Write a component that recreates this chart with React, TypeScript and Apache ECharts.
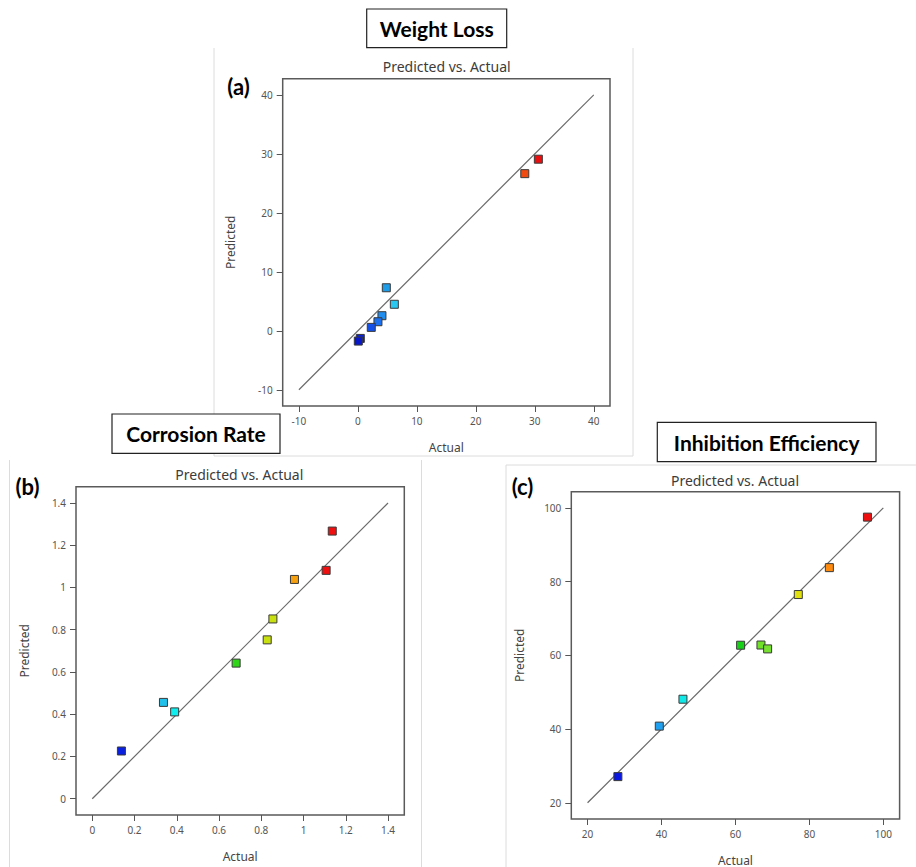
import React, { useEffect, useRef } from "react";
import * as echarts from "echarts";

// ---------- Data ----------
// (a) Weight Loss
const wlActual = [30.6, 28.3, 4.82, 6.18, 4.08, 3.4, 2.27, 0.41, 0.07];
const wlPredicted = [29.1, 26.65, 7.3, 4.5, 2.56, 1.54, 0.58, -1.29, -1.74];
const wlTicks = [-10, 0, 10, 20, 30, 40];

// (b) Corrosion Rate
const crActual = [1.136, 1.107, 0.957, 0.855, 0.828, 0.681, 0.337, 0.39, 0.138];
const crPredicted = [1.267, 1.081, 1.038, 0.851, 0.752, 0.642, 0.456, 0.411, 0.226];
const crTicks = [0, 0.2, 0.4, 0.6, 0.8, 1, 1.2, 1.4];

// (c) Inhibition Efficiency
const ieActual = [95.7, 85.4, 77.0, 61.4, 66.9, 68.7, 45.8, 39.4, 28.2];
const iePredicted = [97.5, 83.8, 76.5, 62.75, 62.8, 61.75, 48.1, 40.8, 27.1];
const ieTicks = [20, 40, 60, 80, 100];

// ---------- Styles ----------
const wlColors = ["#e81010", "#f04c12", "#1e9ce8", "#28c8f0", "#208ef0", "#1a70ee", "#1250e8", "#0a20d0", "#0818c8"];
const crColors = ["#ee1010", "#ee1010", "#f5a010", "#c8e010", "#c8e010", "#30d418", "#20c0ea", "#10eef0", "#0a20e0"];
const ieColors = ["#ee1010", "#ff8c10", "#e0e010", "#18d018", "#70e028", "#78e030", "#10e8e8", "#20a0f0", "#0a18e0"];

const FONT = "'Noto Sans', 'Open Sans', sans-serif";
const BOLD_FONT = "Lato, 'Open Sans', sans-serif";

type Panel = {
  actual: number[];
  predicted: number[];
  ticks: number[];
  colors: string[];
  left: number;
  top: number;
  size: number;
};

const panels: Panel[] = [
  { actual: wlActual, predicted: wlPredicted, ticks: wlTicks, colors: wlColors, left: 282.7, top: 78.7, size: 327.3 },
  { actual: crActual, predicted: crPredicted, ticks: crTicks, colors: crColors, left: 76, top: 486.7, size: 328.3 },
  { actual: ieActual, predicted: iePredicted, ticks: ieTicks, colors: ieColors, left: 571.3, top: 491.7, size: 328.3 },
];

function buildOption() {
  const grid: any[] = [];
  const xAxis: any[] = [];
  const yAxis: any[] = [];
  const series: any[] = [];

  panels.forEach((p, i) => {
    const lo = p.ticks[0];
    const hi = p.ticks[p.ticks.length - 1];
    const pad = (hi - lo) * 0.055;
    grid.push({
      left: p.left,
      top: p.top,
      width: p.size,
      height: p.size,
      show: true,
      borderColor: "#5a5a5a",
      borderWidth: 1.5,
      backgroundColor: "transparent",
      containLabel: false,
    });
    const axisCommon = {
      type: "value",
      gridIndex: i,
      min: lo - pad,
      max: hi + pad,
      splitLine: { show: false },
      axisLine: { show: false, onZero: false },
      axisTick: { show: true, length: 6, customValues: p.ticks, lineStyle: { color: "#555", width: 1 } },
      axisLabel: {
        customValues: p.ticks,
        color: "#555",
        fontSize: 10,
        fontFamily: FONT,
        margin: 10,
      },
      nameLocation: "middle",
      nameTextStyle: { color: "#444", fontSize: 12, fontFamily: FONT },
    };
    xAxis.push({ ...axisCommon, position: "bottom", name: "Actual", nameGap: 35 });
    yAxis.push({ ...axisCommon, position: "left", name: "Predicted", nameGap: 46 });

    series.push({
      type: "line",
      xAxisIndex: i,
      yAxisIndex: i,
      data: [
        [lo, lo],
        [hi, hi],
      ],
      symbol: "none",
      silent: true,
      lineStyle: { color: "#6a6a6a", width: 1.2 },
      z: 2,
    });
    series.push({
      type: "scatter",
      xAxisIndex: i,
      yAxisIndex: i,
      data: p.actual.map((a, k) => [a, p.predicted[k]]),
      symbol: "rect",
      symbolSize: 8,
      itemStyle: {
        color: (params: any) => p.colors[params.dataIndex],
        borderColor: "#3a3a3a",
        borderWidth: 1,
        opacity: 1,
      },
      z: 3,
    });
  });

  const faint = "#dcdcdc";
  const graphic: any[] = [
    // faint panel borders
    { type: "line", shape: { x1: 214, y1: 48, x2: 214, y2: 456 }, style: { stroke: faint, lineWidth: 1 } },
    { type: "line", shape: { x1: 214, y1: 456, x2: 633, y2: 456 }, style: { stroke: faint, lineWidth: 1 } },
    { type: "line", shape: { x1: 633, y1: 48, x2: 633, y2: 456 }, style: { stroke: faint, lineWidth: 1 } },
    { type: "line", shape: { x1: 9.5, y1: 460, x2: 9.5, y2: 867 }, style: { stroke: faint, lineWidth: 1 } },
    { type: "line", shape: { x1: 421.5, y1: 460, x2: 421.5, y2: 867 }, style: { stroke: faint, lineWidth: 1 } },
    { type: "line", shape: { x1: 506, y1: 465, x2: 916, y2: 465 }, style: { stroke: faint, lineWidth: 1 } },
    { type: "line", shape: { x1: 506, y1: 465, x2: 506, y2: 867 }, style: { stroke: faint, lineWidth: 1 } },

    // title boxes
    { type: "rect", shape: { x: 366.7, y: 9, width: 140, height: 38.7 }, style: { fill: "#fff", stroke: "#222", lineWidth: 1.2 } },
    { type: "text", x: 436.7, y: 28.5, style: { text: "Weight Loss", font: `bold 21px ${BOLD_FONT}`, fill: "#000", textAlign: "center", textVerticalAlign: "middle" } },
    { type: "rect", shape: { x: 112, y: 414, width: 168, height: 39.3 }, style: { fill: "#fff", stroke: "#222", lineWidth: 1.2 } },
    { type: "text", x: 196, y: 433.7, style: { text: "Corrosion Rate", font: `bold 21px ${BOLD_FONT}`, fill: "#000", textAlign: "center", textVerticalAlign: "middle" } },
    { type: "rect", shape: { x: 657.3, y: 422.3, width: 218.7, height: 39.4 }, style: { fill: "#fff", stroke: "#222", lineWidth: 1.2 } },
    { type: "text", x: 766.7, y: 442, style: { text: "Inhibition Efficiency", font: `bold 21px ${BOLD_FONT}`, fill: "#000", textAlign: "center", textVerticalAlign: "middle" } },

    // chart titles
    { type: "text", x: 446.7, y: 66.7, style: { text: "Predicted vs. Actual", font: `14px ${FONT}`, fill: "#3c3c3c", textAlign: "center", textVerticalAlign: "middle" } },
    { type: "text", x: 239.3, y: 474.3, style: { text: "Predicted vs. Actual", font: `14px ${FONT}`, fill: "#3c3c3c", textAlign: "center", textVerticalAlign: "middle" } },
    { type: "text", x: 735, y: 480.7, style: { text: "Predicted vs. Actual", font: `14px ${FONT}`, fill: "#3c3c3c", textAlign: "center", textVerticalAlign: "middle" } },

    // panel labels
    { type: "text", x: 238.5, y: 86.7, style: { text: "(a)", font: `bold 22px ${BOLD_FONT}`, fill: "#000", textAlign: "center", textVerticalAlign: "middle" } },
    { type: "text", x: 27.5, y: 486.7, style: { text: "(b)", font: `bold 22px ${BOLD_FONT}`, fill: "#000", textAlign: "center", textVerticalAlign: "middle" } },
    { type: "text", x: 522.5, y: 486.7, style: { text: "(c)", font: `bold 22px ${BOLD_FONT}`, fill: "#000", textAlign: "center", textVerticalAlign: "middle" } },
  ];

  return {
    animation: false,
    backgroundColor: "#ffffff",
    grid,
    xAxis,
    yAxis,
    series,
    graphic,
  };
}

export default function App() {
  const ref = useRef<HTMLDivElement>(null);
  useEffect(() => {
    if (!ref.current) return;
    const chart = echarts.init(ref.current, undefined, { renderer: "svg" });
    chart.setOption(buildOption() as any);
    return () => chart.dispose();
  }, []);
  return (
    <div
      ref={ref}
      style={{ position: "absolute", left: 0, top: 0, width: 916, height: 867, background: "#fff" }}
    />
  );
}
